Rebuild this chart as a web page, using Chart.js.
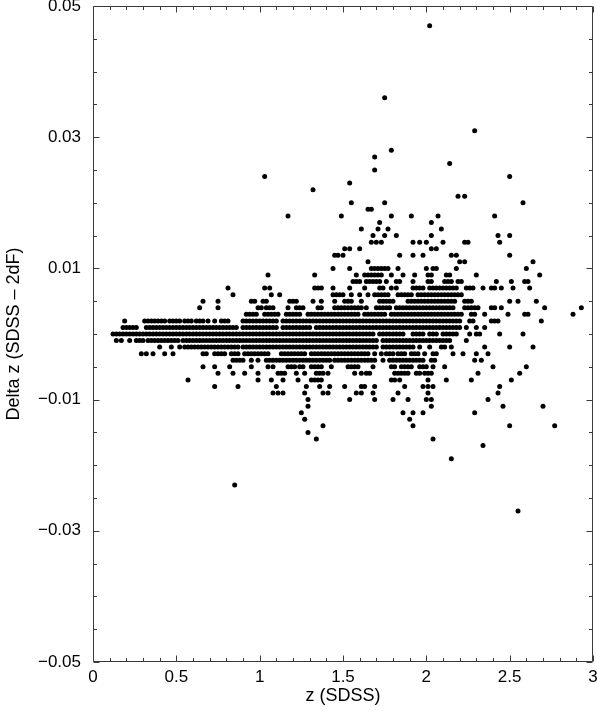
<!DOCTYPE html>
<html>
<head>
<meta charset="utf-8">
<script src="https://cdn.jsdelivr.net/npm/chart.js@4/dist/chart.umd.min.js"></script>
<style>
html,body{margin:0;padding:0;background:#fff;}
canvas{display:block;}
</style>
</head>
<body>
<canvas id="c" width="597" height="711" style="width:597px;height:711px"></canvas>
<script>
// ---- Data: z(SDSS) values of the objects, grouped by their Delta z value ----
const z_p47 = [2.02];
const z_p36 = [1.75];
const z_p31 = [2.29];
const z_p28 = [1.79];
const z_p27 = [1.69];
const z_p26 = [2.14];
const z_p25 = [1.69];
const z_p24 = [1.03,2.50];
const z_p23 = [1.54];
const z_p22 = [1.32];
const z_p21 = [2.19,2.23];
const z_p20 = [1.55,1.75,2.58];
const z_p19 = [1.65,1.67];
const z_p18 = [1.17,1.49,1.79,1.91,2.07,2.41];
const z_p17 = [1.72,2.03];
const z_p16 = [1.61,1.71,1.77,2.09];
const z_p15 = [1.68,1.75,1.82,2.03,2.43,2.50];
const z_p14 = [1.67,1.70,1.73,1.92,1.96,2.00,2.10,2.23,2.25,2.44];
const z_p13 = [1.51,1.54,1.60,2.03,2.06];
const z_p12 = [1.45,1.47,1.50,1.84,1.92,1.98,2.15,2.18,2.50];
const z_p11 = [1.65,2.20,2.23,2.64];
const z_p10 = [1.44,1.54,1.67,1.69,1.71,1.73,1.75,1.77,1.83,2.00,2.04,2.06,2.18,2.60];
const z_p09 = [1.05,1.33,1.58,1.63,1.65,1.67,1.69,1.71,1.73,1.79,1.86,1.93,2.01,2.03,2.12,2.14,2.30,2.68];
const z_p08 = [1.56,1.58,1.60,1.64,1.66,1.68,1.70,1.72,1.76,1.82,1.84,1.92,2.01,2.03,2.11,2.13,2.15,2.19,2.21,2.42,2.51,2.59,2.61];
const z_p07 = [0.81,1.03,1.06,1.33,1.35,1.37,1.44,1.54,1.63,1.72,1.74,1.79,1.82,1.92,1.94,1.96,1.98,2.02,2.04,2.06,2.08,2.10,2.12,2.14,2.16,2.18,2.24,2.26,2.28,2.34,2.39,2.41,2.45,2.52,2.62];
const z_p06 = [0.84,1.07,1.12,1.44,1.46,1.48,1.50,1.55,1.60,1.65,1.69,1.71,1.73,1.75,1.77,1.83,1.85,1.87,1.89,1.91,1.95,1.97,1.99,2.01,2.03,2.05,2.07,2.09,2.11,2.13,2.15,2.17,2.19,2.21];
const z_p05 = [0.66,0.75,0.95,0.97,1.02,1.04,1.18,1.20,1.22,1.32,1.37,1.45,1.51,1.53,1.55,1.61,1.72,1.74,1.76,1.78,1.80,1.89,1.91,1.93,1.95,1.97,1.99,2.01,2.03,2.05,2.07,2.09,2.11,2.13,2.15,2.17,2.23,2.25,2.27,2.50,2.55,2.66];
const z_p04 = [0.64,0.75,0.99,1.01,1.04,1.06,1.08,1.17,1.22,1.24,1.26,1.35,1.37,1.45,1.47,1.49,1.51,1.53,1.55,1.57,1.59,1.61,1.64,1.70,1.72,1.74,1.76,1.78,1.82,1.84,1.86,1.88,1.90,1.92,1.94,1.96,1.98,2.00,2.02,2.04,2.06,2.08,2.10,2.12,2.14,2.16,2.23,2.25,2.27,2.29,2.31,2.39,2.41,2.45,2.71,2.93];
const z_p03 = [0.92,0.94,0.96,0.98,1.03,1.05,1.07,1.09,1.11,1.16,1.18,1.20,1.22,1.24,1.29,1.31,1.33,1.35,1.37,1.39,1.41,1.43,1.45,1.47,1.49,1.51,1.53,1.55,1.57,1.59,1.63,1.65,1.67,1.69,1.71,1.73,1.75,1.79,1.81,1.83,1.85,1.87,1.89,1.91,1.93,1.95,1.97,1.99,2.01,2.03,2.05,2.07,2.09,2.11,2.13,2.15,2.17,2.19,2.21,2.27,2.29,2.35,2.49,2.59,2.61,2.88];
const z_p02 = [0.19,0.31,0.33,0.35,0.37,0.39,0.41,0.43,0.46,0.48,0.50,0.52,0.55,0.57,0.59,0.62,0.64,0.66,0.69,0.73,0.77,0.79,0.81,0.90,0.92,0.94,0.96,0.98,1.00,1.02,1.04,1.06,1.08,1.10,1.14,1.16,1.18,1.20,1.22,1.24,1.26,1.28,1.30,1.32,1.34,1.36,1.38,1.40,1.42,1.44,1.46,1.48,1.50,1.52,1.54,1.56,1.58,1.60,1.62,1.64,1.66,1.68,1.70,1.72,1.74,1.76,1.78,1.80,1.82,1.84,1.86,1.88,1.90,1.92,1.94,1.96,1.98,2.00,2.02,2.04,2.06,2.08,2.10,2.12,2.14,2.16,2.18,2.20,2.26,2.28,2.39,2.41,2.43,2.69];
const z_p01 = [0.18,0.20,0.22,0.24,0.26,0.32,0.34,0.36,0.38,0.40,0.42,0.44,0.46,0.48,0.50,0.52,0.54,0.56,0.58,0.60,0.62,0.64,0.66,0.68,0.70,0.72,0.74,0.76,0.78,0.80,0.82,0.84,0.86,0.90,0.92,0.94,0.96,0.98,1.00,1.02,1.04,1.06,1.08,1.10,1.14,1.16,1.18,1.20,1.22,1.24,1.26,1.28,1.30,1.34,1.36,1.38,1.40,1.42,1.44,1.46,1.48,1.50,1.52,1.54,1.56,1.58,1.60,1.62,1.64,1.66,1.68,1.70,1.72,1.74,1.76,1.78,1.80,1.82,1.84,1.86,1.88,1.90,1.92,1.94,1.96,1.98,2.00,2.02,2.04,2.06,2.08,2.10,2.12,2.14,2.16,2.18,2.20,2.24,2.30,2.35];
const z_p00 = [0.12,0.14,0.16,0.18,0.20,0.22,0.24,0.26,0.28,0.30,0.32,0.34,0.36,0.38,0.40,0.42,0.44,0.46,0.48,0.50,0.52,0.54,0.56,0.58,0.60,0.62,0.64,0.66,0.68,0.70,0.72,0.74,0.76,0.78,0.80,0.82,0.84,0.86,0.88,0.90,0.92,0.94,0.96,0.98,1.00,1.02,1.04,1.06,1.08,1.10,1.12,1.14,1.16,1.18,1.20,1.22,1.24,1.26,1.28,1.30,1.32,1.34,1.36,1.38,1.40,1.42,1.44,1.46,1.48,1.50,1.52,1.54,1.56,1.58,1.60,1.62,1.64,1.66,1.68,1.72,1.74,1.76,1.78,1.80,1.82,1.84,1.86,1.92,1.94,1.96,1.98,2.02,2.04,2.06,2.10,2.12,2.14,2.16,2.18,2.26,2.30,2.32,2.44,2.58];
const z_m01 = [0.14,0.17,0.22,0.26,0.28,0.30,0.33,0.35,0.37,0.39,0.41,0.43,0.45,0.47,0.49,0.51,0.54,0.56,0.58,0.60,0.62,0.64,0.66,0.68,0.70,0.72,0.74,0.76,0.78,0.80,0.82,0.84,0.86,0.88,0.90,0.92,0.94,0.96,0.98,1.00,1.02,1.04,1.06,1.08,1.10,1.12,1.14,1.16,1.18,1.20,1.22,1.24,1.26,1.28,1.30,1.32,1.34,1.36,1.38,1.40,1.42,1.44,1.46,1.48,1.50,1.52,1.54,1.56,1.58,1.60,1.62,1.64,1.66,1.68,1.70,1.74,1.76,1.78,1.80,1.82,1.84,1.86,1.88,1.90,1.92,1.94,1.96,1.98,2.00,2.02,2.04,2.06,2.08,2.10,2.12,2.14,2.24];
const z_m02 = [0.40,0.47,0.52,0.55,0.57,0.59,0.61,0.63,0.65,0.67,0.69,0.71,0.73,0.75,0.77,0.79,0.81,0.83,0.85,0.87,0.90,0.92,0.94,0.96,0.98,1.00,1.02,1.04,1.06,1.08,1.10,1.12,1.14,1.16,1.18,1.20,1.22,1.24,1.26,1.28,1.30,1.32,1.34,1.36,1.38,1.40,1.42,1.44,1.46,1.48,1.50,1.52,1.54,1.56,1.58,1.60,1.62,1.64,1.66,1.68,1.70,1.74,1.76,1.78,1.80,1.82,1.84,1.86,1.88,1.90,1.92,1.96,2.02,2.09,2.11,2.15,2.35,2.50,2.64];
const z_m03 = [0.29,0.32,0.36,0.43,0.48,0.66,0.68,0.73,0.75,0.77,0.79,0.83,0.85,0.87,0.91,0.93,0.95,0.97,0.99,1.01,1.03,1.05,1.13,1.15,1.17,1.19,1.21,1.23,1.25,1.27,1.31,1.33,1.35,1.37,1.39,1.41,1.43,1.45,1.47,1.49,1.51,1.53,1.55,1.57,1.59,1.61,1.63,1.65,1.69,1.73,1.76,1.78,1.80,1.83,1.85,1.87,1.91,1.93,1.95,1.99,2.04,2.06,2.16,2.22,2.30,2.37];
const z_m04 = [0.84,0.86,0.88,0.90,0.95,0.99,1.04,1.06,1.08,1.10,1.12,1.14,1.16,1.18,1.20,1.22,1.24,1.26,1.28,1.30,1.32,1.34,1.36,1.38,1.40,1.42,1.45,1.47,1.49,1.51,1.53,1.55,1.57,1.59,1.61,1.63,1.65,1.67,1.69,1.74,1.78,1.80,1.82,1.84,1.86,1.88,1.90,1.92,1.94,1.96,1.98,2.03,2.05,2.29,2.33];
const z_m05 = [0.66,0.73,0.82,0.95,1.05,1.08,1.17,1.19,1.21,1.24,1.26,1.31,1.33,1.35,1.37,1.43,1.53,1.55,1.57,1.59,1.68,1.79,1.81,1.85,1.87,1.89,1.91,1.96,1.98,2.00,2.04,2.11,2.40,2.60];
const z_m06 = [0.75,0.84,0.91,0.99,1.11,1.13,1.15,1.22,1.27,1.34,1.36,1.38,1.41,1.57,1.61,1.64,1.66,1.81,1.83,1.85,1.87,1.89,1.94,1.96,1.99,2.01,2.03,2.31,2.56];
const z_m07 = [0.57,0.99,1.07,1.14,1.23,1.31,1.33,1.35,1.37,1.79,1.81,1.84,2.01,2.12,2.27,2.51];
const z_m08 = [0.73,0.87,1.10,1.28,1.36,1.42,1.51,1.61,1.63,1.69,1.87,1.98,2.01,2.04,2.44];
const z_m09 = [1.08,1.11,1.14,1.27,1.38,1.41,1.58,1.61,1.68,1.83,2.01,2.43];
const z_m10 = [1.29,1.54,1.69,1.80,1.89,2.00,2.03,2.37];
const z_m11 = [1.29,2.03,2.46,2.70];
const z_m12 = [1.25,1.86,1.92,1.98,2.29];
const z_m13 = [1.27,1.90];
const z_m14 = [1.38,1.92,2.50,2.77];
const z_m15 = [1.29];
const z_m16 = [1.34,2.04];
const z_m17 = [2.34];
const z_m19 = [2.15];
const z_m23 = [0.85];
const z_m27 = [2.55];

// Delta z value of each group (same order as zGroups)
const deltaLevels = [0.047,0.036,0.031,0.028,0.027,0.026,0.025,0.024,0.023,0.022,0.021,0.020,0.019,0.018,0.017,0.016,0.015,0.014,0.013,0.012,0.011,0.010,0.009,0.008,0.007,0.006,0.005,0.004,0.003,0.002,0.001,0.000,-0.001,-0.002,-0.003,-0.004,-0.005,-0.006,-0.007,-0.008,-0.009,-0.010,-0.011,-0.012,-0.013,-0.014,-0.015,-0.016,-0.017,-0.019,-0.023,-0.027];
const zGroups = [z_p47,z_p36,z_p31,z_p28,z_p27,z_p26,z_p25,z_p24,z_p23,z_p22,z_p21,z_p20,z_p19,z_p18,z_p17,z_p16,z_p15,z_p14,z_p13,z_p12,z_p11,z_p10,z_p09,z_p08,z_p07,z_p06,z_p05,z_p04,z_p03,z_p02,z_p01,z_p00,z_m01,z_m02,z_m03,z_m04,z_m05,z_m06,z_m07,z_m08,z_m09,z_m10,z_m11,z_m12,z_m13,z_m14,z_m15,z_m16,z_m17,z_m19,z_m23,z_m27];

// Ticks
const xTickValues = [0,0.1,0.2,0.3,0.4,0.5,0.6,0.7,0.8,0.9,1.0,1.1,1.2,1.3,1.4,1.5,1.6,1.7,1.8,1.9,2.0,2.1,2.2,2.3,2.4,2.5,2.6,2.7,2.8,2.9,3.0];
const xLabeledValues = [0,0.5,1,1.5,2,2.5,3];
const xTickLabels = ['0','0.5','1','1.5','2','2.5','3'];
const yTickValues = [-0.05,-0.045,-0.04,-0.035,-0.03,-0.025,-0.02,-0.015,-0.01,-0.005,0,0.005,0.01,0.015,0.02,0.025,0.03,0.035,0.04,0.045,0.05];
const yLabeledValues = [-0.05,-0.03,-0.01,0.01,0.03,0.05];
const yTickLabels = ['\u22120.05','\u22120.03','\u22120.01','0.01','0.03','0.05'];
const xTitle = 'z (SDSS)';
const yTitle = 'Delta z (SDSS \u2013 2dF)';

// ---- build ----
const points = [];
zGroups.forEach((arr, i) => arr.forEach(z => points.push({x: z, y: deltaLevels[i]})));

function idxOf(v, list){ return list.findIndex(t => Math.abs(t - v) < 1e-9); }
function labelFor(v, list, labels){ const i = idxOf(v, list); return i >= 0 ? labels[i] : ''; }

const FONT = "'Liberation Sans', Arial, Helvetica, sans-serif";

const framePlugin = {
  id: 'frame',
  afterDatasetsDraw(chart){
    const {ctx, chartArea, scales} = chart;
    const L = Math.round(chartArea.left) + 0.5, R = Math.round(chartArea.right) - 0.5;
    const T = Math.round(chartArea.top) + 0.5, B = Math.round(chartArea.bottom) - 0.5;
    ctx.save();
    ctx.strokeStyle = '#3a3a3a';
    ctx.lineWidth = 1;
    ctx.beginPath();
    ctx.rect(L, T, R - L, B - T);
    ctx.stroke();
    ctx.beginPath();
    xTickValues.forEach(v => {
      const p = Math.round(scales.x.getPixelForValue(v)) + 0.5;
      const len = idxOf(v, xLabeledValues) >= 0 ? 6 : 3.5;
      ctx.moveTo(p, B); ctx.lineTo(p, B - len);
      ctx.moveTo(p, T); ctx.lineTo(p, T + len);
    });
    yTickValues.forEach(v => {
      const p = Math.round(scales.y.getPixelForValue(v)) + 0.5;
      const len = idxOf(v, yLabeledValues) >= 0 ? 6 : 3.5;
      ctx.moveTo(L, p); ctx.lineTo(L + len, p);
      ctx.moveTo(R, p); ctx.lineTo(R - len, p);
    });
    ctx.stroke();
    ctx.restore();
  }
};

new Chart(document.getElementById('c'), {
  type: 'scatter',
  data: {
    datasets: [{
      data: points,
      pointRadius: 2.5,
      pointHoverRadius: 2.5,
      pointStyle: 'circle',
      backgroundColor: '#000',
      borderColor: '#000',
      borderWidth: 0
    }]
  },
  options: {
    responsive: false,
    animation: false,
    devicePixelRatio: 1,
    layout: { padding: { top: 6, right: 4, left: 0, bottom: 0 } },
    plugins: { legend: { display: false }, tooltip: { enabled: false } },
    scales: {
      x: {
        type: 'linear', min: 0, max: 3,
        afterBuildTicks: s => { s.ticks = xTickValues.map(v => ({ value: v })); },
        afterFit: s => { s.height = 49; s.paddingLeft = 0; s.paddingRight = 0; },
        grid: { display: false, drawTicks: false },
        border: { display: false },
        ticks: {
          autoSkip: false, maxRotation: 0, padding: 5, color: '#000',
          font: { family: FONT, size: 17 },
          callback: v => labelFor(v, xLabeledValues, xTickLabels)
        },
        title: { display: true, text: xTitle, color: '#000', font: { family: FONT, size: 18 }, padding: { top: 0, bottom: 4 } }
      },
      y: {
        type: 'linear', min: -0.05, max: 0.05,
        afterBuildTicks: s => { s.ticks = yTickValues.map(v => ({ value: v })); },
        afterFit: s => { s.width = 93; s.paddingTop = 0; s.paddingBottom = 0; },
        grid: { display: false, drawTicks: false },
        border: { display: false },
        ticks: {
          autoSkip: false, padding: 12, color: '#000',
          font: { family: FONT, size: 17 },
          callback: v => labelFor(v, yLabeledValues, yTickLabels)
        },
        title: { display: true, text: yTitle, color: '#000', font: { family: FONT, size: 18 }, padding: { top: 3, bottom: 0 } }
      }
    }
  },
  plugins: [framePlugin]
});
</script>
</body>
</html>
